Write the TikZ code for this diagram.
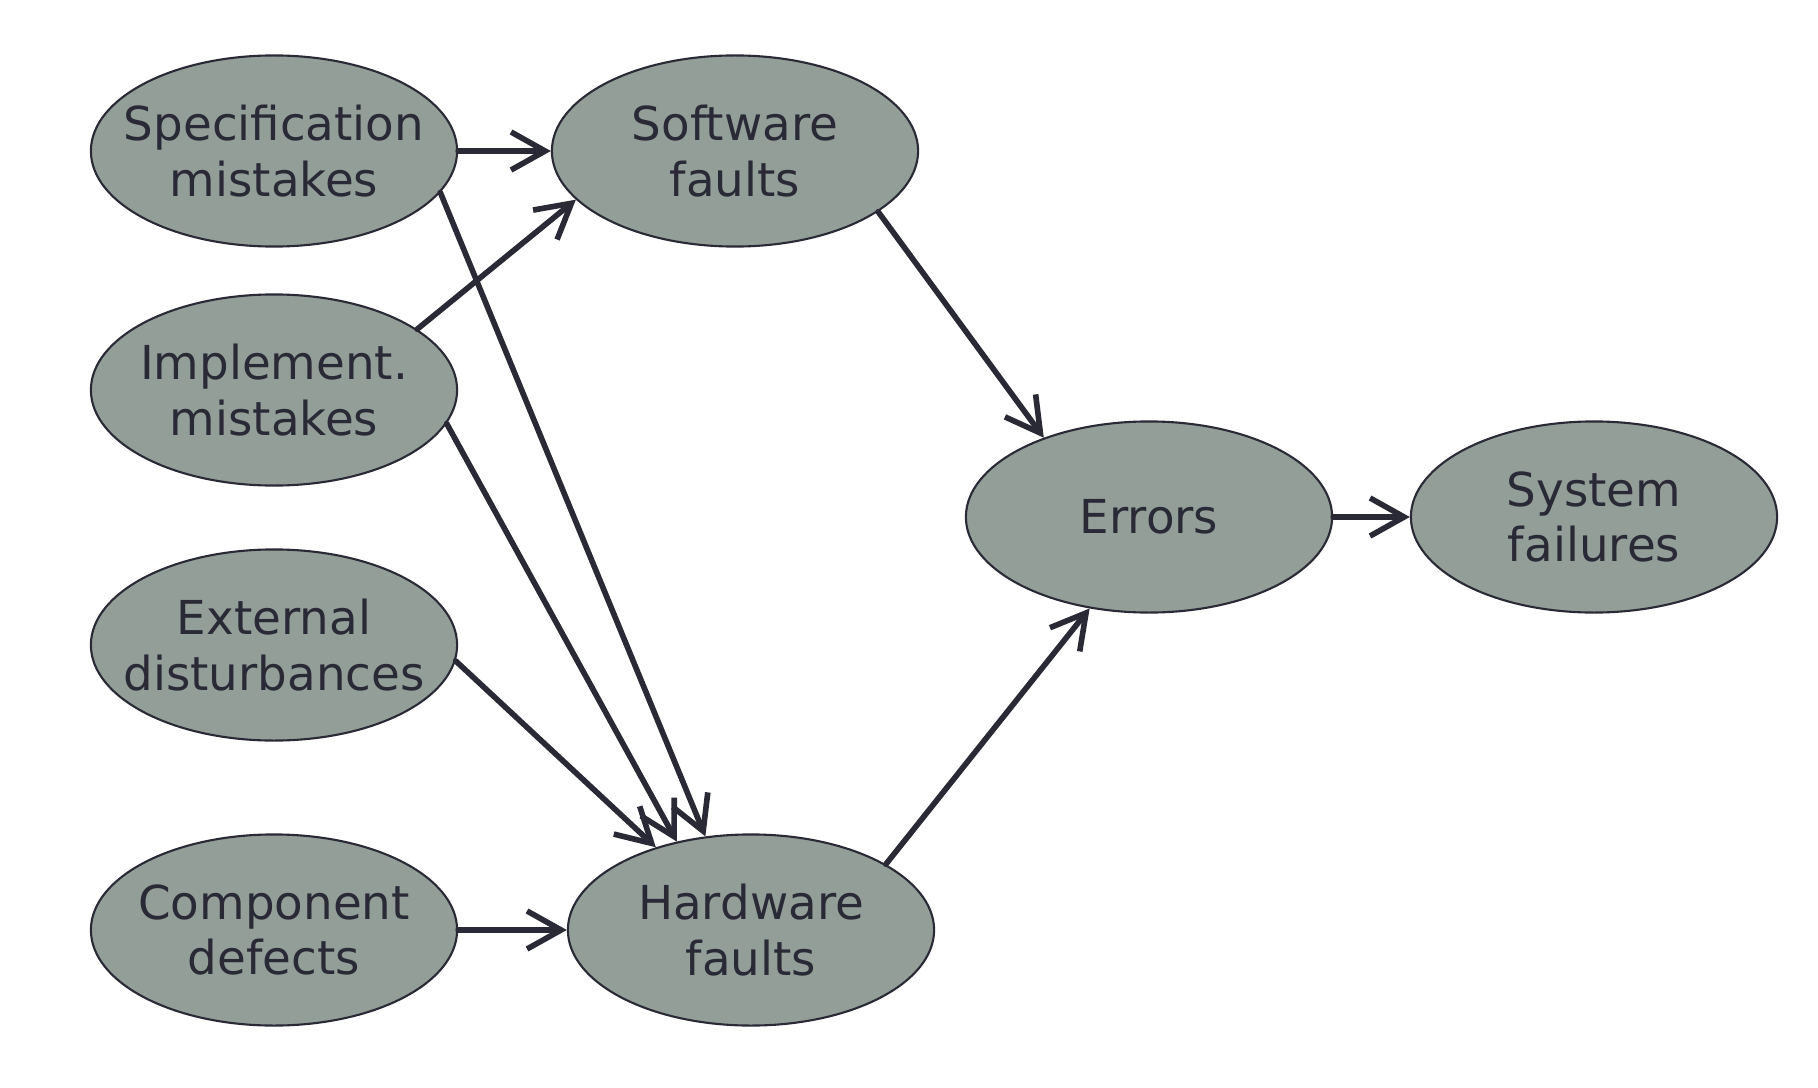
\documentclass[tikz,border=0pt]{standalone}
\usepackage{fontspec}
\setmainfont{DejaVu Sans}
\usetikzlibrary{arrows.meta,shapes.geometric}
\definecolor{figink}{HTML}{2A2A36}
\definecolor{figfill}{HTML}{949E98}

\begin{document}
\begin{tikzpicture}[x=0.01cm, y=-0.01cm, line cap=round, line join=round,
    cause/.style={ellipse, draw=figink, line width=0.6pt, fill=figfill,
      minimum width=3.66cm, minimum height=1.91cm, inner xsep=-0.3cm, inner ysep=0pt,
      align=center, text=figink, font=\fontsize{13.3}{15.8}\selectfont},
    flow/.style={draw=figink, line width=1.6pt,
      -{Straight Barb[length=3.4mm, width=3.8mm, line width=1.6pt]}}]
  \useasboundingbox (0,0) rectangle (1818,1088);

  % left column: sources
  \node[cause] (spec) at (274,151) {Specification\\mistakes};
  \node[cause] (impl) at (274,390) {Implement.\\mistakes};
  \node[cause] (ext)  at (274,645) {External\\disturbances};
  \node[cause] (comp) at (274,930) {Component\\defects};

  % faults, errors, failures
  \node[cause] (sw)  at (735,151)  {Software\\faults};
  \node[cause] (hw)  at (751,930)  {Hardware\\faults};
  \node[cause] (err) at (1149,517) {Errors};
  \node[cause] (sys) at (1594,517) {System\\failures};

  % into software faults
  \draw[flow] (spec.east) -- (sw.west);
  \draw[flow] (impl.23) -- (sw.-163);

  % into hardware faults
  \draw[flow] (spec.-14) -- (hw.116);
  \draw[flow] (impl.-11) -- (hw.130);
  \draw[flow] (ext.-5)   -- (hw.139);
  \draw[flow] (comp.east) -- (hw.west);

  % faults lead to errors, errors to failures
  \draw[flow] (sw.-23) -- (err.143);
  \draw[flow] (hw.26)  -- (err.-123);
  \draw[flow] (err.east) -- (sys.west);
\end{tikzpicture}
\end{document}
